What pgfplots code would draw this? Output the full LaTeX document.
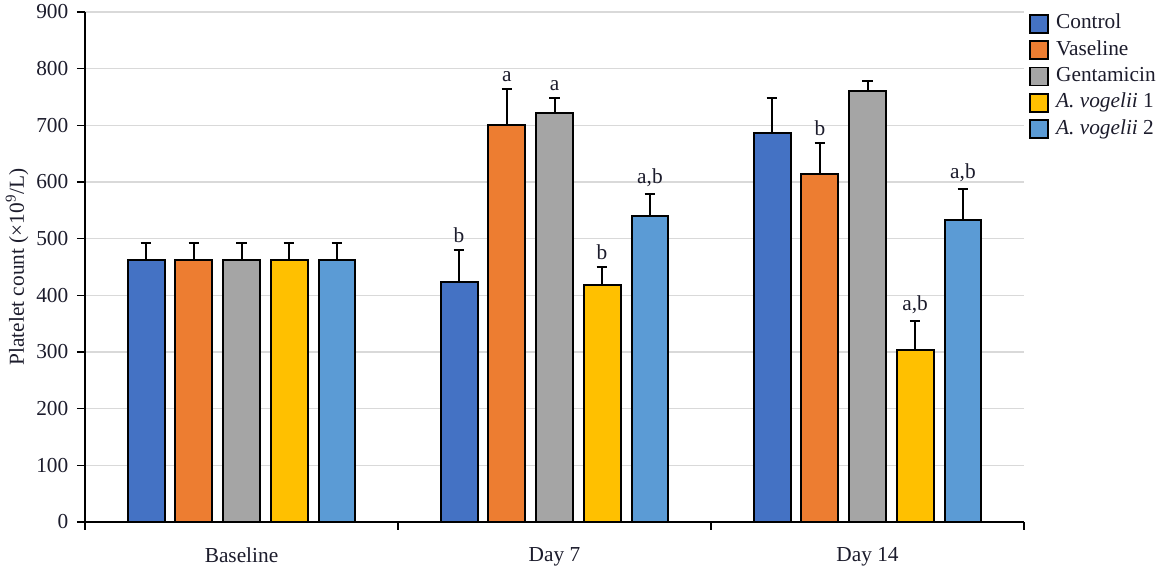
\documentclass[border=0pt]{standalone}
\usepackage{pgfplots}
\pgfplotsset{compat=1.18}
\usepackage{pgfplotstable}
\usepackage{fontspec}
\setmainfont{Liberation Serif}

\definecolor{cControl}{HTML}{4472C4}
\definecolor{cVas}{HTML}{ED7D31}
\definecolor{cGen}{HTML}{A5A5A5}
\definecolor{cAv1}{HTML}{FFC000}
\definecolor{cAv2}{HTML}{5B9BD5}
\definecolor{gridgray}{HTML}{D9D9D9}
\definecolor{txt}{HTML}{1C1C2C}

% x, mean, error (upper)
\pgfplotstableread{
x y err
0 462 31
1 423 57
2 686 62
}\control
\pgfplotstableread{
x y err
0 462 31
1 700 64
2 614 55
}\vaseline
\pgfplotstableread{
x y err
0 462 31
1 722 26
2 760 18
}\gentamicin
\pgfplotstableread{
x y err
0 462 31
1 418 32
2 303 52
}\avone
\pgfplotstableread{
x y err
0 462 31
1 540 39
2 533 55
}\avtwo
% significance letters, placed at the top of the error bar
\pgfplotstableread{
x y lab
0.695 480 b
0.848 764 a
1.000 748 a
1.152 450 b
1.305 579 a,b
1.848 669 b
2.152 355 a,b
2.305 588 a,b
}\letters

\begin{document}
\fontsize{16}{19}\selectfont
\begin{tikzpicture}
\begin{axis}[
    name=ax,
    scale only axis,
    width=704.25pt, height=382.5pt,
    xmin=-0.5, xmax=2.5,
    ymin=0, ymax=900,
    ytick={0,100,...,900},
    xtick={0,1,2},
    xticklabels={Baseline, Day 7, Day 14},
    minor xtick={-0.5,0.5,1.5,2.5},
    major x tick style={draw=none},
    minor x tick style={black, line width=1.2pt},
    minor tick length=6pt,
    major tick length=6pt,
    tick align=outside,
    y tick style={black, line width=1.2pt},
    axis x line*=bottom,
    axis y line*=left,
    axis line style={-, black, line width=1.5pt},
    ymajorgrids=true,
    grid style={gridgray, line width=1.2pt},
    ticklabel style={text=txt},
    xticklabel style={yshift=-7.5pt},
    yticklabel style={xshift=-1pt},
    ylabel={Platelet count (×10\textsuperscript{9}/L)},
    ylabel style={text=txt, yshift=-5pt},
    /pgf/number format/assume math mode=true,
    ybar, bar width=0.118,
    error bars/y dir=plus,
    error bars/y explicit,
    error bars/error bar style={black, line width=1.5pt},
    error bars/error mark options={black, rotate=90, mark size=4pt, line width=1.5pt},
    every axis plot/.append style={draw=black, line width=1.5pt},
    legend style={at={(1,1)}, xshift=3.5pt, yshift=0.5pt, anchor=north west, draw=none,
        fill=none, row sep=1.25pt, font=\fontsize{16}{19}\selectfont,
        text=txt, inner sep=0pt, cells={anchor=west},
        nodes={text height=11pt, text depth=3.5pt}},
    legend image code/.code={\draw[#1, line width=1.3pt] (0pt,-6.75pt) rectangle (13.5pt,6.75pt);
        \path (17pt,0pt);},
]
\addplot[fill=cControl, bar shift=-0.305] table[x=x, y=y, y error=err] {\control};
\addplot[fill=cVas, bar shift=-0.152] table[x=x, y=y, y error=err] {\vaseline};
\addplot[fill=cGen, bar shift=0] table[x=x, y=y, y error=err] {\gentamicin};
\addplot[fill=cAv1, bar shift=0.152] table[x=x, y=y, y error=err] {\avone};
\addplot[fill=cAv2, bar shift=0.305] table[x=x, y=y, y error=err] {\avtwo};
\legend{Control, Vaseline, Gentamicin, \textit{A. vogelii} 1, \textit{A. vogelii} 2}

\addplot[forget plot, draw=none, mark=none, only marks, bar shift=0, bar width=0,
    error bars/y dir=none,
    nodes near coords, point meta=explicit symbolic,
    every node near coord/.append style={anchor=south, text=txt, yshift=2.5pt, inner sep=2pt}]
    table[x=x, y=y, meta=lab] {\letters};
\end{axis}
\pgfresetboundingbox
\path ([xshift=-63.75pt, yshift=-37.5pt]ax.south west) rectangle ([xshift=103.5pt, yshift=9pt]ax.north east);
\end{tikzpicture}
\end{document}
